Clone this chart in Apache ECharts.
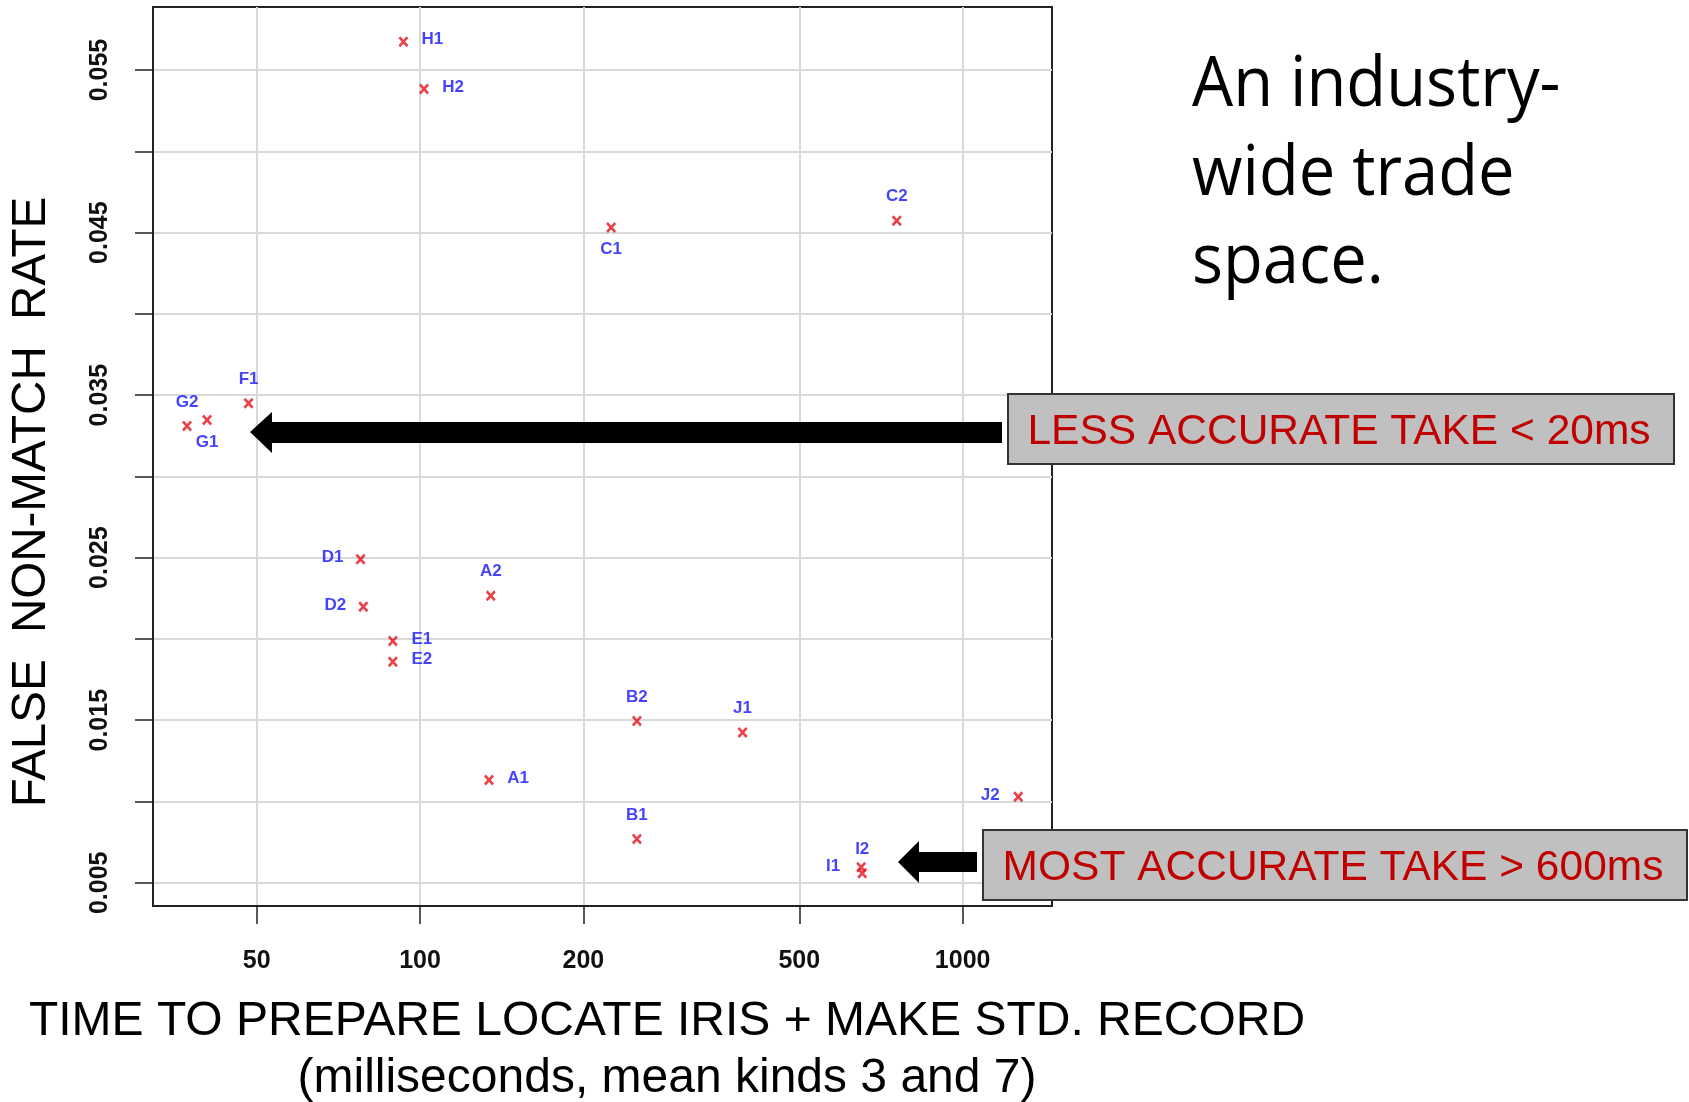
<!DOCTYPE html>
<html><head><meta charset="utf-8">
<script src="https://cdn.jsdelivr.net/npm/echarts@6/dist/echarts.min.js"></script>
<style>html,body{margin:0;padding:0;background:#fff}#c{width:1689px;height:1102px}</style>
</head><body><div id="c"></div>
<script>
// ---- data ----
const names    = ['A1','A2','B1','B2','C1','C2','D1','D2','E1','E2','F1','G1','G2','H1','H2','I1','I2','J1','J2'];
const timeMs   = [134, 135, 251, 251, 225, 756, 77.7, 78.6, 89.1, 89.1, 48.3, 40.5, 37.2, 93.2, 101.7, 650, 653, 393, 1266];
const fnmr     = [0.01132,0.02266,0.00769,0.01495,0.04532,0.04573,0.0249,0.02198,0.01987,0.0186,0.0345,0.03347,0.0331,0.05674,0.05383,0.00595,0.00558,0.01425,0.01029];
const labelPos = ['right','top','top','top','bottom','top','left','left','right','right','top','bottom','top','right','right','left','top','top','left'];
const xTickValues = [50, 100, 200, 500, 1000];
const xRange = [32.2, 1461];
const yTickValues = [0.005,0.010,0.015,0.020,0.025,0.030,0.035,0.040,0.045,0.050,0.055];
const yLabelValues = [0.005,0.015,0.025,0.035,0.045,0.055];
const yRange = [0.00357, 0.05888];
const yTitle = 'FALSE  NON-MATCH  RATE';
const xTitle1 = 'TIME TO PREPARE LOCATE IRIS + MAKE STD. RECORD';
const xTitle2 = '(milliseconds, mean kinds 3 and 7)';
const sideText = ['An industry-', 'wide trade', 'space.'];
const note1 = 'LESS ACCURATE TAKE < 20ms';
const note2 = 'MOST ACCURATE TAKE > 600ms';

// ---- styling ----
const NARROW = '"Liberation Sans Narrow","Arial Narrow","Liberation Sans",Arial,sans-serif';
const SANS = '"Liberation Sans",Arial,sans-serif';
const offsets = {top:[0,-24], bottom:[0,22], left:[-28,-1.5], right:[29,-2]};
const XMARK = 'path://M0,1.8 L1.8,0 L5,3.2 L8.2,0 L10,1.8 L6.8,5 L10,8.2 L8.2,10 L5,6.8 L1.8,10 L0,8.2 L3.2,5 Z';

const chart = echarts.init(document.getElementById('c'), null, {renderer:'canvas'});
const data = names.map((n,i)=>({
  name:n, value:[Math.log10(timeMs[i]), fnmr[i]],
  label:{offset: offsets[labelPos[i]]}
}));

chart.setOption({
  animation:false,
  backgroundColor:'#ffffff',
  grid:{left:153, top:7, width:899, height:899, show:true, borderColor:'#222', borderWidth:2, backgroundColor:'transparent'},
  xAxis:{
    type:'value', min:Math.log10(xRange[0]), max:Math.log10(xRange[1]),
    axisLine:{show:true, onZero:false, lineStyle:{color:'#222', width:2}},
    axisTick:{show:true, inside:false, length:18, customValues:xTickValues.map(Math.log10), lineStyle:{color:'#222', width:1.5}},
    axisLabel:{customValues:xTickValues.map(Math.log10), margin:43, formatter:v=>String(Math.round(Math.pow(10,v))),
      fontFamily:NARROW, fontSize:25, fontWeight:'bold', color:'#111'},
    splitLine:{show:true, lineStyle:{color:'#d9d9d9', width:2}}
  },
  yAxis:{
    type:'value', min:yRange[0], max:yRange[1],
    axisLine:{show:true, onZero:false, lineStyle:{color:'#222', width:2}},
    axisTick:{show:true, inside:false, length:18, customValues:yTickValues, lineStyle:{color:'#222', width:1.5}},
    axisLabel:{customValues:yLabelValues, rotate:90, margin:40, formatter:v=>v.toFixed(3),
      fontFamily:NARROW, fontSize:25, fontWeight:'bold', color:'#111'},
    splitLine:{show:true, lineStyle:{color:'#d9d9d9', width:2}}
  },
  series:[{
    type:'scatter', symbol:XMARK, symbolSize:[10,11],
    itemStyle:{color:'#e4141c'},
    label:{show:true, position:'inside', formatter:'{b}', color:'#1414ff', fontFamily:NARROW, fontSize:17, fontWeight:'bold'},
    data:data, z:5
  }],
  graphic:[
    {type:'text', x:32, y:502, rotation:Math.PI/2, scaleY:1.03, z:10,
      style:{text:yTitle, fontFamily:SANS, fontSize:47.5, fill:'#000', align:'center', verticalAlign:'middle'}},
    {type:'text', x:667, y:1022, z:10,
      style:{text:xTitle1, fontFamily:SANS, fontSize:48, fill:'#000', align:'center', verticalAlign:'middle'}},
    {type:'text', x:667, y:1079, z:10,
      style:{text:xTitle2, fontFamily:SANS, fontSize:48, fill:'#000', align:'center', verticalAlign:'middle'}},
    {type:'text', x:1192, y:86, scaleX:0.93, z:10,
      style:{text:sideText[0], fontFamily:'"Open Sans",sans-serif', fontSize:70, fill:'#000', align:'left', verticalAlign:'middle'}},
    {type:'text', x:1192, y:175, scaleX:0.93, z:10,
      style:{text:sideText[1], fontFamily:'"Open Sans",sans-serif', fontSize:70, fill:'#000', align:'left', verticalAlign:'middle'}},
    {type:'text', x:1192, y:263, scaleX:0.93, z:10,
      style:{text:sideText[2], fontFamily:'"Open Sans",sans-serif', fontSize:70, fill:'#000', align:'left', verticalAlign:'middle'}},
    {type:'polygon', z:20, shape:{points:[[250,432],[272,412],[272,422],[1002,422],[1002,443],[272,443],[272,453]]}, style:{fill:'#000'}},
    {type:'polygon', z:20, shape:{points:[[898,862],[919,841],[919,852],[977,852],[977,872],[919,872],[919,883]]}, style:{fill:'#000'}},
    {type:'rect', z:21, shape:{x:1008, y:394, width:666, height:70}, style:{fill:'#c0c0c0', stroke:'#333', lineWidth:2}},
    {type:'text', z:22, x:1339, y:432, style:{text:note1, fontFamily:SANS, fontSize:42.5, fill:'#c00000', align:'center', verticalAlign:'middle'}},
    {type:'rect', z:21, shape:{x:983, y:830, width:704, height:70}, style:{fill:'#c0c0c0', stroke:'#333', lineWidth:2}},
    {type:'text', z:22, x:1333, y:868, style:{text:note2, fontFamily:SANS, fontSize:42.5, fill:'#c00000', align:'center', verticalAlign:'middle'}}
  ]
});
</script></body></html>
